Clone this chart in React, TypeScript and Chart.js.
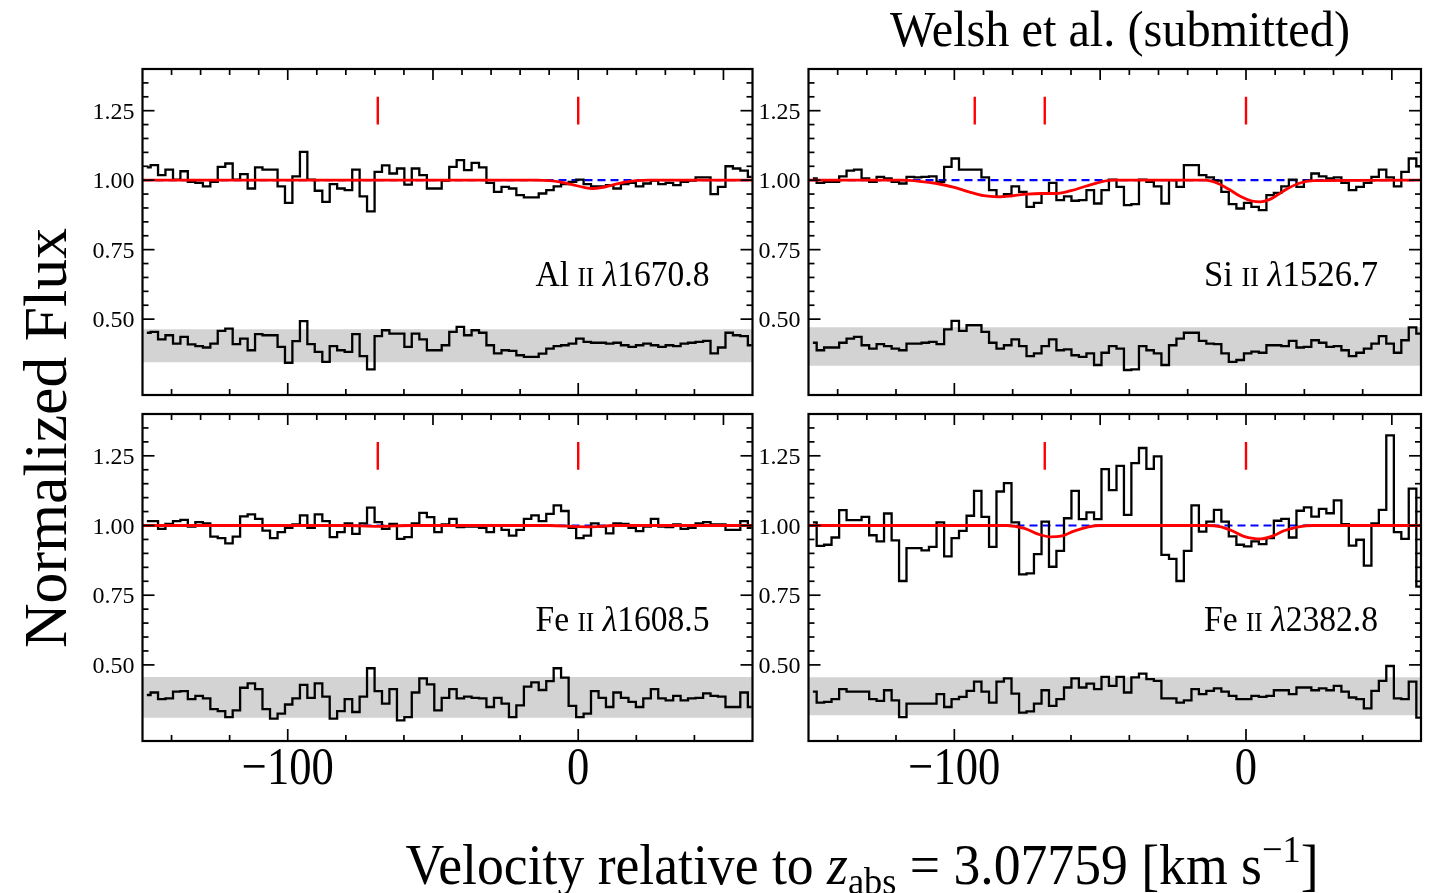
import React, { useEffect, useRef } from "react";
import { Chart, registerables } from "chart.js";

Chart.register(...registerables);

// ---------------- data ----------------
const VEL = [
  -148.5, -145.9, -143.4, -140.8, -138.2, -135.7, -133.1, -130.5, -127.9, -125.4,
  -122.8, -120.2, -117.7, -115.1, -112.5, -110.0, -107.4, -104.8, -102.2, -99.7,
  -97.1, -94.5, -92.0, -89.4, -86.8, -84.3, -81.7, -79.1, -76.5, -74.0,
  -71.4, -68.8, -66.3, -63.7, -61.1, -58.6, -56.0, -53.4, -50.8, -48.3,
  -45.7, -43.1, -40.6, -38.0, -35.4, -32.9, -30.3, -27.7, -25.1, -22.6,
  -20.0, -17.4, -14.9, -12.3, -9.7, -7.2, -4.6, -2.0, 0.6, 3.1,
  5.7, 8.3, 10.8, 13.4, 16.0, 18.6, 21.1, 23.7, 26.3, 28.8,
  31.4, 34.0, 36.5, 39.1, 41.7, 44.3, 46.8, 49.4, 52.0, 54.5,
  57.1, 59.7,
];

const AL_FLUX = [
  1.046, 1.054, 1.018, 1.038, 1.002, 1.032, 0.994, 0.990, 0.978, 0.994,
  1.048, 1.060, 1.002, 1.022, 0.970, 1.046, 1.038, 1.038, 0.978, 0.918,
  1.014, 1.102, 1.002, 0.962, 0.922, 0.986, 0.970, 0.964, 1.038, 0.942,
  0.888, 1.030, 1.053, 1.024, 1.042, 0.984, 1.042, 1.018, 0.970, 0.970,
  0.998, 1.048, 1.072, 1.036, 1.062, 1.046, 0.990, 0.958, 0.976, 0.970,
  0.946, 0.938, 0.938, 0.952, 0.964, 0.978, 0.986, 0.994, 1.002, 0.986,
  0.978, 0.978, 0.982, 0.970, 0.986, 0.990, 0.978, 0.988, 0.998, 0.986,
  0.990, 0.982, 0.994, 0.998, 1.010, 1.010, 0.950, 0.976, 1.050, 1.042,
  1.034, 1.012,
];
const AL_RESID = [
  0.451, 0.454, 0.427, 0.442, 0.412, 0.436, 0.409, 0.403, 0.398, 0.412,
  0.458, 0.466, 0.410, 0.430, 0.388, 0.446, 0.442, 0.442, 0.400, 0.343,
  0.421, 0.493, 0.410, 0.382, 0.346, 0.403, 0.388, 0.382, 0.446, 0.367,
  0.319, 0.439, 0.460, 0.448, 0.448, 0.400, 0.448, 0.427, 0.388, 0.388,
  0.406, 0.454, 0.472, 0.442, 0.460, 0.451, 0.406, 0.377, 0.388, 0.386,
  0.370, 0.364, 0.364, 0.376, 0.394, 0.403, 0.406, 0.412, 0.430, 0.418,
  0.415, 0.415, 0.412, 0.415, 0.406, 0.400, 0.406, 0.412, 0.406, 0.400,
  0.406, 0.403, 0.412, 0.415, 0.418, 0.422, 0.377, 0.398, 0.451, 0.442,
  0.439, 0.406,
];
const AL_MODEL_VEL = [-150, -14, -10, -6, -2, 2, 5, 8, 12, 16, 20, 24, 60];
const AL_MODEL = [1, 1, 0.998, 0.993, 0.984, 0.974, 0.970, 0.973, 0.983, 0.993, 0.998, 1, 1];

const SI_FLUX = [
  1.006, 0.990, 0.994, 0.994, 1.014, 1.034, 1.038, 1.006, 0.994, 1.012,
  1.006, 0.994, 0.988, 1.012, 1.010, 1.012, 1.014, 0.994, 1.048, 1.078,
  1.038, 1.038, 1.038, 1.010, 0.964, 0.940, 0.950, 0.978, 0.958, 0.904,
  0.918, 0.952, 0.990, 0.928, 0.942, 0.926, 0.928, 0.964, 0.916, 0.964,
  1.002, 0.976, 0.910, 0.914, 1.002, 0.994, 0.978, 0.916, 1.000, 0.976,
  1.054, 1.054, 1.018, 1.010, 0.998, 0.958, 0.914, 0.898, 0.918, 0.904,
  0.892, 0.946, 0.954, 0.978, 1.002, 0.976, 0.998, 1.024, 1.014, 1.006,
  1.010, 0.990, 0.964, 0.976, 0.990, 1.012, 1.038, 1.010, 0.978, 1.030,
  1.078, 1.050,
];
const SI_RESID = [
  0.415, 0.388, 0.398, 0.398, 0.415, 0.430, 0.436, 0.406, 0.394, 0.410,
  0.403, 0.394, 0.388, 0.412, 0.412, 0.415, 0.418, 0.410, 0.463, 0.494,
  0.458, 0.478, 0.478, 0.454, 0.415, 0.394, 0.406, 0.427, 0.403, 0.367,
  0.377, 0.403, 0.427, 0.388, 0.391, 0.370, 0.364, 0.377, 0.335, 0.379,
  0.403, 0.394, 0.317, 0.319, 0.403, 0.388, 0.377, 0.335, 0.406, 0.430,
  0.451, 0.451, 0.422, 0.412, 0.410, 0.377, 0.346, 0.353, 0.377, 0.383,
  0.379, 0.406, 0.406, 0.403, 0.422, 0.398, 0.400, 0.424, 0.415, 0.400,
  0.403, 0.388, 0.367, 0.379, 0.394, 0.412, 0.439, 0.412, 0.379, 0.424,
  0.470, 0.448,
];
const SI_MODEL_VEL = [
  -150, -118, -112, -106, -100, -95, -90, -85, -80, -75, -70, -65, -60, -55, -50, -46,
  -14, -10, -6, -2, 2, 5, 8, 11, 14, 18, 23, 60,
];
const SI_MODEL = [
  1, 1, 0.996, 0.988, 0.974, 0.958, 0.944, 0.940, 0.944, 0.950, 0.952, 0.952, 0.962, 0.978, 0.993, 1,
  1, 0.990, 0.968, 0.942, 0.925, 0.922, 0.930, 0.948, 0.968, 0.988, 0.998, 1,
];

const FE1608_FLUX = [
  1.016, 1.016, 0.988, 1.006, 1.016, 1.020, 0.996, 1.012, 1.008, 0.960,
  0.955, 0.936, 0.960, 1.033, 1.040, 1.024, 0.982, 0.955, 0.976, 0.992,
  1.004, 1.036, 0.992, 1.040, 1.016, 0.958, 0.976, 1.008, 0.970, 1.008,
  1.064, 1.012, 0.988, 1.006, 0.952, 0.958, 1.008, 1.045, 1.030, 0.976,
  1.004, 1.024, 0.994, 0.996, 0.996, 0.992, 0.976, 1.000, 0.984, 0.964,
  0.984, 1.024, 1.036, 1.016, 1.042, 1.072, 1.052, 0.992, 0.955, 0.964,
  1.008, 0.996, 0.972, 1.008, 1.006, 0.992, 0.980, 0.996, 1.024, 0.996,
  0.994, 1.004, 0.988, 0.992, 1.008, 1.012, 1.004, 1.004, 0.984, 0.984,
  1.016, 0.992,
];
const FE1608_RESID = [
  0.392, 0.401, 0.377, 0.380, 0.404, 0.406, 0.377, 0.389, 0.380, 0.341,
  0.334, 0.313, 0.337, 0.418, 0.434, 0.413, 0.341, 0.307, 0.325, 0.358,
  0.380, 0.428, 0.382, 0.434, 0.386, 0.307, 0.334, 0.377, 0.331, 0.386,
  0.488, 0.406, 0.361, 0.413, 0.301, 0.313, 0.401, 0.452, 0.430, 0.337,
  0.382, 0.413, 0.380, 0.386, 0.382, 0.380, 0.349, 0.382, 0.361, 0.313,
  0.355, 0.422, 0.437, 0.410, 0.442, 0.488, 0.454, 0.353, 0.313, 0.325,
  0.406, 0.382, 0.349, 0.401, 0.382, 0.367, 0.349, 0.380, 0.413, 0.380,
  0.373, 0.389, 0.373, 0.380, 0.382, 0.398, 0.389, 0.386, 0.349, 0.349,
  0.401, 0.349,
];
const FE1608_MODEL_VEL = [-150, -80, -69, -58, -10, 0, 5, 12, 60];
const FE1608_MODEL = [1, 1, 0.997, 1, 1, 0.996, 0.995, 1, 1];

const FE2382_FLUX = [
  1.011, 0.927, 0.931, 0.957, 1.055, 1.019, 1.019, 1.031, 0.965, 0.943,
  1.043, 0.947, 0.801, 0.919, 0.919, 0.911, 0.923, 1.011, 0.889, 0.955,
  0.981, 1.035, 1.124, 1.031, 0.923, 1.122, 1.152, 1.011, 0.825, 0.828,
  0.897, 1.014, 0.852, 0.909, 1.026, 1.124, 1.023, 1.047, 1.023, 1.202,
  1.127, 1.214, 1.038, 1.224, 1.278, 1.203, 1.248, 0.895, 0.880, 0.801,
  0.909, 1.072, 0.978, 1.014, 1.056, 1.014, 0.961, 0.931, 0.925, 0.943,
  0.933, 0.955, 1.017, 1.024, 0.957, 1.053, 1.065, 1.032, 1.060, 1.044,
  1.090, 1.005, 0.928, 0.949, 0.856, 1.008, 1.056, 1.323, 0.976, 0.952,
  1.132, 0.781,
];
const FE2382_RESID = [
  0.404, 0.365, 0.367, 0.377, 0.413, 0.404, 0.404, 0.404, 0.377, 0.371,
  0.409, 0.373, 0.313, 0.361, 0.361, 0.361, 0.361, 0.395, 0.349, 0.377,
  0.385, 0.407, 0.440, 0.404, 0.365, 0.440, 0.452, 0.397, 0.329, 0.333,
  0.361, 0.409, 0.353, 0.377, 0.419, 0.452, 0.419, 0.433, 0.413, 0.457,
  0.425, 0.457, 0.401, 0.455, 0.469, 0.449, 0.443, 0.380, 0.380, 0.365,
  0.373, 0.413, 0.395, 0.407, 0.416, 0.404, 0.389, 0.377, 0.377, 0.389,
  0.385, 0.389, 0.409, 0.409, 0.395, 0.419, 0.419, 0.409, 0.416, 0.409,
  0.425, 0.404, 0.383, 0.377, 0.344, 0.407, 0.443, 0.496, 0.380, 0.377,
  0.440, 0.311,
];
const FE2382_MODEL_VEL = [-150, -82, -76, -71, -67, -63, -59, -54, -50, -13, -9, -5, -1, 3, 5, 9, 13, 18, 23, 60];
const FE2382_MODEL = [1, 1, 0.990, 0.968, 0.959, 0.963, 0.980, 0.995, 1, 1, 0.996, 0.982, 0.962, 0.953, 0.952, 0.962, 0.981, 0.995, 1, 1];

const CONT_VEL = [-150, 60];
const CONT = [1, 1];

const COMPS_AL = [-69, 0];
const COMPS_SI = [-93, -69, 0];
const COMPS_FE1608 = [-69, 0];
const COMPS_FE2382 = [-69, 0];
const COMP_TICK = [1.2, 1.3];

const BAND_AL = [0.345, 0.464];
const BAND_SI = [0.332, 0.471];
const BAND_FE1608 = [0.31, 0.457];
const BAND_FE2382 = [0.319, 0.456];

const X_RANGE = [-150, 60];
const Y_RANGE = [0.227, 1.4];
const X_MAJOR_BOTTOM = [-100, 0];
const X_MINOR_BOTTOM = [-140, -120, -80, -60, -40, -20, 20, 40];
const X_MAJOR_TOP = [-100, -50, 0, 50];
const X_MINOR_TOP = [-140, -130, -120, -110, -90, -80, -70, -60, -40, -30, -20, -10, 10, 20, 30, 40];
const Y_MAJOR = [0.5, 0.75, 1.0, 1.25];
const Y_MINOR = [0.55, 0.6, 0.65, 0.7, 0.8, 0.85, 0.9, 0.95, 1.05, 1.1, 1.15, 1.2, 1.3, 1.35];
const X_TICK_LABELS = ["\u2212100", "0"];

// ---------------- style / layout ----------------
const F = '"Liberation Serif", "Times New Roman", serif';
const W = 1429;
const H = 893;

type Seg = { t: string; font: string; dy?: number };

function drawFit(ctx: CanvasRenderingContext2D, segs: Seg[], x: number, baseline: number, align: string, targetW?: number) {
  let total = 0;
  const ws = segs.map((s) => {
    ctx.font = s.font;
    const w = ctx.measureText(s.t).width;
    total += w;
    return w;
  });
  const sx = targetW ? targetW / total : 1;
  const w = total * sx;
  const x0 = align === "right" ? x - w : align === "center" ? x - w / 2 : x;
  ctx.save();
  ctx.translate(x0, baseline);
  ctx.scale(sx, 1);
  ctx.textAlign = "left";
  ctx.textBaseline = "alphabetic";
  let cx = 0;
  segs.forEach((s, i) => {
    ctx.font = s.font;
    ctx.fillText(s.t, cx, s.dy || 0);
    cx += ws[i];
  });
  ctx.restore();
}

type Panel = {
  flux: number[];
  resid: number[];
  mvel: number[];
  model: number[];
  comps: number[];
  band: number[];
  ion: string;
  wave: string;
  rect: number[]; // L, T, R, B of plot area in page px
  xLabels: boolean;
};

const PANELS: Panel[] = [
  { flux: AL_FLUX, resid: AL_RESID, mvel: AL_MODEL_VEL, model: AL_MODEL, comps: COMPS_AL, band: BAND_AL, ion: "Al", wave: "1670.8", rect: [142.5, 69, 752.5, 395], xLabels: false },
  { flux: SI_FLUX, resid: SI_RESID, mvel: SI_MODEL_VEL, model: SI_MODEL, comps: COMPS_SI, band: BAND_SI, ion: "Si", wave: "1526.7", rect: [808.5, 69, 1421, 395], xLabels: false },
  { flux: FE1608_FLUX, resid: FE1608_RESID, mvel: FE1608_MODEL_VEL, model: FE1608_MODEL, comps: COMPS_FE1608, band: BAND_FE1608, ion: "Fe", wave: "1608.5", rect: [142.5, 414, 752.5, 741], xLabels: true },
  { flux: FE2382_FLUX, resid: FE2382_RESID, mvel: FE2382_MODEL_VEL, model: FE2382_MODEL, comps: COMPS_FE2382, band: BAND_FE2382, ion: "Fe", wave: "2382.8", rect: [808.5, 414, 1421, 741], xLabels: true },
];

function canvasBox(p: Panel) {
  const [L, T, R, B] = p.rect;
  const left = Math.floor(L) - 72;
  const top = Math.floor(T) - 10;
  const right = Math.ceil(R) + 10;
  const bottom = Math.ceil(B) + (p.xLabels ? 70 : 10);
  return { left, top, width: right - left, height: bottom - top, pad: { left: L - left, top: T - top, right: right - R, bottom: bottom - B } };
}

function makePlugin(p: Panel) {
  return {
    id: "panelDeco",
    afterDatasetsDraw(chart: any) {
      const { ctx, chartArea: a, scales } = chart;
      const xs = scales.x;
      const ys = scales.y;
      ctx.save();
      ctx.strokeStyle = "#000";
      ctx.lineCap = "butt";
      ctx.lineWidth = 1.7;
      const seg = (x1: number, y1: number, x2: number, y2: number) => {
        ctx.beginPath();
        ctx.moveTo(x1, y1);
        ctx.lineTo(x2, y2);
        ctx.stroke();
      };
      const MAJ = 12;
      const MIN = 6;
      X_MAJOR_BOTTOM.forEach((v) => { const px = xs.getPixelForValue(v); seg(px, a.bottom, px, a.bottom - MAJ); });
      X_MINOR_BOTTOM.forEach((v) => { const px = xs.getPixelForValue(v); seg(px, a.bottom, px, a.bottom - MIN); });
      X_MAJOR_TOP.forEach((v) => { const px = xs.getPixelForValue(v); seg(px, a.top, px, a.top + MAJ - 1); });
      X_MINOR_TOP.forEach((v) => { const px = xs.getPixelForValue(v); seg(px, a.top, px, a.top + MIN); });
      Y_MAJOR.forEach((v) => {
        const py = ys.getPixelForValue(v);
        seg(a.left, py, a.left + MAJ, py);
        seg(a.right, py, a.right - MAJ, py);
      });
      Y_MINOR.forEach((v) => {
        const py = ys.getPixelForValue(v);
        seg(a.left, py, a.left + MIN, py);
        seg(a.right, py, a.right - MIN, py);
      });
      ctx.lineWidth = 2.2;
      ctx.strokeRect(a.left, a.top, a.right - a.left, a.bottom - a.top);

      ctx.fillStyle = "#000";
      ctx.font = `24px ${F}`;
      ctx.textAlign = "right";
      ctx.textBaseline = "alphabetic";
      Y_MAJOR.forEach((v) => {
        ctx.fillText(v.toFixed(2), a.left - 8, ys.getPixelForValue(v) + 8);
      });

      if (p.xLabels) {
        ctx.font = `53px ${F}`;
        const sx = 92 / ctx.measureText(X_TICK_LABELS[0]).width;
        X_MAJOR_BOTTOM.forEach((v, i) => {
          ctx.font = `53px ${F}`;
          const w = ctx.measureText(X_TICK_LABELS[i]).width * sx;
          drawFit(ctx, [{ t: X_TICK_LABELS[i], font: `53px ${F}` }], xs.getPixelForValue(v), a.bottom + 43, "center", w);
        });
      }

      drawFit(
        ctx,
        [
          { t: p.ion + " ", font: `36px ${F}` },
          { t: "II", font: `27px ${F}` },
          { t: " ", font: `36px ${F}` },
          { t: "\u03bb", font: `italic 36px ${F}` },
          { t: p.wave, font: `36px ${F}` },
        ],
        a.right - 43,
        a.top + 217,
        "right",
        174
      );
      ctx.restore();
    },
  };
}

function makeConfig(p: Panel): any {
  const box = canvasBox(p);
  const pts = (xs: number[], ys: (number | null)[]) => xs.map((x, i) => ({ x, y: ys[i] }));
  const compPts: any[] = [];
  p.comps.forEach((v) => {
    compPts.push({ x: v, y: COMP_TICK[0] }, { x: v, y: COMP_TICK[1] }, { x: v, y: null });
  });
  const common = { pointRadius: 0, pointHoverRadius: 0, borderJoinStyle: "miter", borderCapStyle: "butt" };
  return {
    type: "line",
    data: {
      datasets: [
        { ...common, data: pts(X_RANGE, [p.band[1], p.band[1]]), fill: { value: p.band[0] }, backgroundColor: "#d3d3d3", borderWidth: 0, borderColor: "rgba(0,0,0,0)", order: 10 },
        { ...common, data: pts(VEL, p.resid), stepped: "middle", borderColor: "#000", borderWidth: 2.3, fill: false, order: 9 },
        { ...common, data: pts(CONT_VEL, CONT), borderColor: "#0000ff", borderDash: [8, 5], borderWidth: 2.2, fill: false, order: 8 },
        { ...common, data: pts(VEL, p.flux), stepped: "middle", borderColor: "#000", borderWidth: 2.3, fill: false, order: 7 },
        { ...common, data: pts(p.mvel, p.model), borderColor: "#ff0000", borderWidth: 2.8, cubicInterpolationMode: "monotone", fill: false, order: 6 },
        { ...common, data: compPts, borderColor: "#ff0000", borderWidth: 2.4, spanGaps: false, fill: false, order: 5 },
      ],
    },
    options: {
      responsive: false,
      maintainAspectRatio: false,
      animation: false,
      devicePixelRatio: 1,
      events: [],
      layout: { padding: box.pad },
      scales: {
        x: { type: "linear", min: X_RANGE[0], max: X_RANGE[1], display: false },
        y: { type: "linear", min: Y_RANGE[0], max: Y_RANGE[1], display: false },
      },
      plugins: { legend: { display: false }, tooltip: { enabled: false } },
    },
    plugins: [makePlugin(p)],
  };
}

function drawGlobal(ctx: CanvasRenderingContext2D) {
  ctx.clearRect(0, 0, W, H);
  ctx.fillStyle = "#000";
  drawFit(ctx, [{ t: "Welsh et al. (submitted)", font: `50px ${F}` }], 1120, 46, "center", 460);
  drawFit(
    ctx,
    [
      { t: "Velocity relative to ", font: `56px ${F}` },
      { t: "z", font: `italic 56px ${F}` },
      { t: "abs", font: `38px ${F}`, dy: 10 },
      { t: " = 3.07759 [km s", font: `56px ${F}` },
      { t: "\u22121", font: `38px ${F}`, dy: -22 },
      { t: "]", font: `56px ${F}` },
    ],
    862,
    884,
    "center",
    913
  );
  ctx.save();
  ctx.translate(66, 438);
  ctx.rotate(-Math.PI / 2);
  drawFit(ctx, [{ t: "Normalized Flux", font: `61px ${F}` }], 0, 0, "center", 420);
  ctx.restore();
}

export default function App() {
  const r0 = useRef<HTMLCanvasElement>(null);
  const r1 = useRef<HTMLCanvasElement>(null);
  const r2 = useRef<HTMLCanvasElement>(null);
  const r3 = useRef<HTMLCanvasElement>(null);
  const overlay = useRef<HTMLCanvasElement>(null);
  const refs = [r0, r1, r2, r3];

  useEffect(() => {
    const charts = PANELS.map((p, k) => new Chart(refs[k].current as HTMLCanvasElement, makeConfig(p)));
    const octx = overlay.current?.getContext("2d");
    if (octx) drawGlobal(octx);
    return () => charts.forEach((c) => c.destroy());
  }, []);

  return (
    <div style={{ position: "absolute", left: 0, top: 0, width: W, height: H, background: "#fff", overflow: "hidden" }}>
      {PANELS.map((p, k) => {
        const b = canvasBox(p);
        return (
          <canvas
            key={k}
            ref={refs[k]}
            width={b.width}
            height={b.height}
            style={{ position: "absolute", left: b.left, top: b.top, width: b.width, height: b.height }}
          />
        );
      })}
      <canvas ref={overlay} width={W} height={H} style={{ position: "absolute", left: 0, top: 0, width: W, height: H, pointerEvents: "none" }} />
    </div>
  );
}
